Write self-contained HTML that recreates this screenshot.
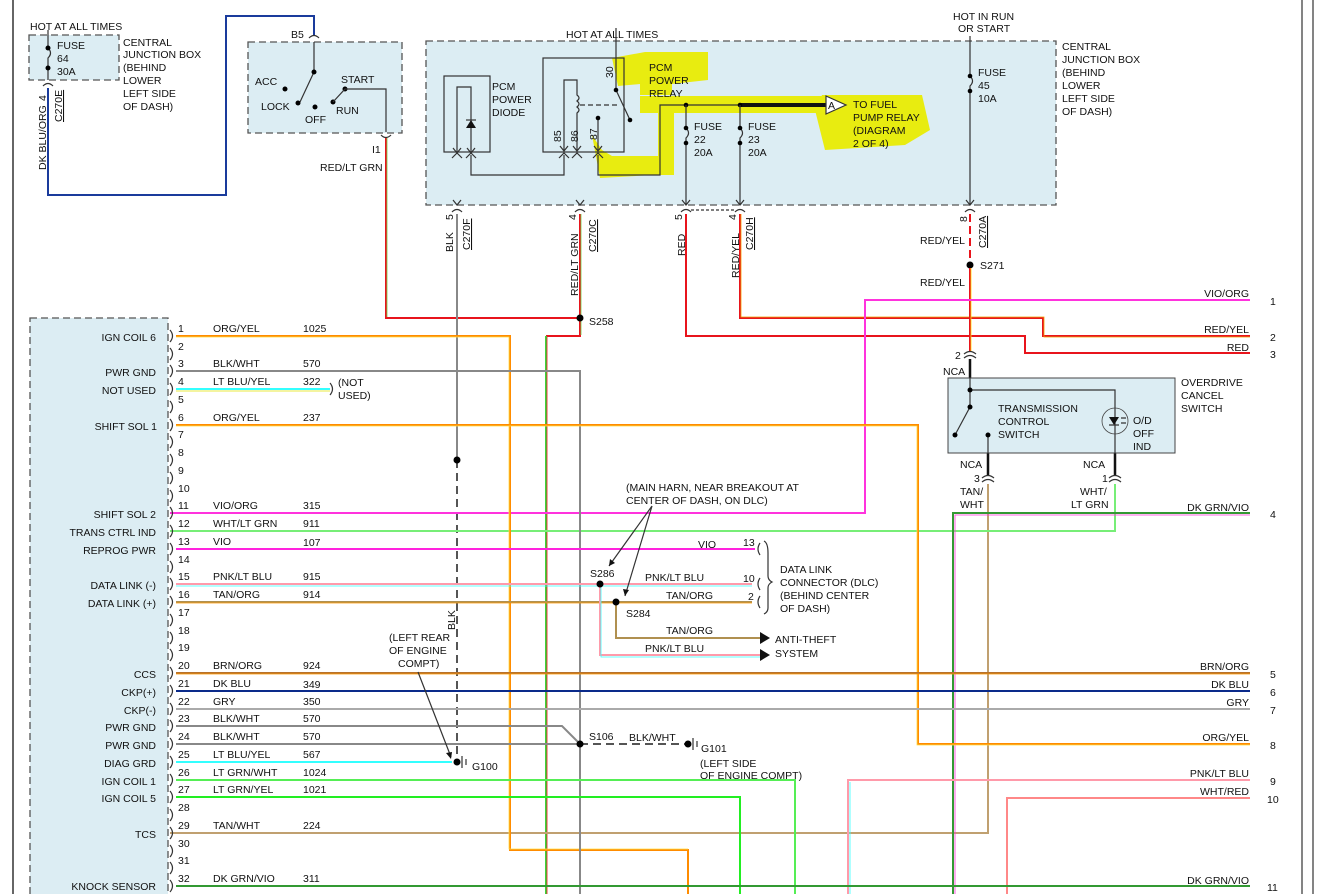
<!DOCTYPE html>
<html><head><meta charset="utf-8"><style>
html,body{margin:0;padding:0;background:#fff}
svg{display:block}
text{font-family:"Liberation Sans",sans-serif;font-size:10.5px;fill:#111}
.r{text-anchor:end}
.b{fill:#dcedf3;stroke:#555;stroke-width:1.3;stroke-dasharray:7,4}
.k{stroke:#333;stroke-width:1.2;fill:none}
.w{fill:none;stroke-width:2}
.t{fill:none;stroke-width:0.8}
</style></head><body>
<svg width="1321" height="894" viewBox="0 0 1321 894" xmlns="http://www.w3.org/2000/svg">
<rect width="1321" height="894" fill="#fff"/>
<line x1="13" y1="0" x2="13" y2="894" stroke="#333" stroke-width="1.5"/>
<line x1="1302" y1="0" x2="1302" y2="894" stroke="#333" stroke-width="1.2"/>
<line x1="1313" y1="0" x2="1313" y2="894" stroke="#333" stroke-width="1.2"/>

<!-- top-left fuse box -->
<rect class="b" x="29" y="35" width="90" height="45"/>
<text x="30" y="30">HOT AT ALL TIMES</text>
<text x="57" y="49">FUSE</text><text x="57" y="62">64</text><text x="57" y="75">30A</text>
<text x="123" y="46">CENTRAL</text><text x="123" y="58">JUNCTION BOX</text><text x="123" y="71">(BEHIND</text><text x="123" y="84">LOWER</text><text x="123" y="97">LEFT SIDE</text><text x="123" y="110">OF DASH)</text>
<path class="k" d="M48 30V48q5 5 0 10V80"/>
<circle cx="48" cy="48" r="2.5"/><circle cx="48" cy="68" r="2.5"/>
<path class="k" d="M43 86q5 -5 10 0"/>
<path class="w" stroke="#1a3b9c" d="M48 88V195H226V16H314V36"/>
<text transform="translate(46,170) rotate(-90)">DK BLU/ORG</text>
<text transform="translate(46,101) rotate(-90)">4</text>
<text transform="translate(62,122) rotate(-90)" text-decoration="underline">C270E</text>

<!-- ignition switch -->
<rect class="b" x="248" y="42" width="154" height="91"/>
<text x="291" y="38">B5</text>
<path class="k" d="M309 38q5 -5 10 0 M314 42V72L300 102"/>
<circle cx="314" cy="72" r="2.5"/><circle cx="285" cy="89" r="2.5"/><circle cx="298" cy="103" r="2.5"/><circle cx="315" cy="107" r="2.5"/><circle cx="333" cy="102" r="2.5"/><circle cx="345" cy="89" r="2.5"/>
<path class="k" d="M333 102L345 89H386V132"/>
<text x="255" y="85">ACC</text><text x="261" y="110">LOCK</text><text x="305" y="123">OFF</text><text x="341" y="83">START</text><text x="336" y="114">RUN</text>
<path class="k" d="M381 135q5 5 10 0"/>
<text x="372" y="153">I1</text><text x="320" y="171">RED/LT GRN</text>
<path class="w" stroke="#e8141c" d="M386 138V318H580"/>
<path class="t" stroke="#6cd24a" d="M387 138V317"/>

<!-- CJB big box -->
<rect class="b" x="426" y="41" width="630" height="164"/>
<text x="566" y="38">HOT AT ALL TIMES</text>
<text x="953" y="20">HOT IN RUN</text><text x="958" y="32">OR START</text>
<text x="1062" y="50">CENTRAL</text><text x="1062" y="63">JUNCTION BOX</text><text x="1062" y="76">(BEHIND</text><text x="1062" y="89">LOWER</text><text x="1062" y="102">LEFT SIDE</text><text x="1062" y="115">OF DASH)</text>
<!-- highlight -->
<g fill="#e8ec10">
<path d="M612 58L645 52H708V80L672 84V95H640L640 84L618 86Z"/>
<rect x="640" y="96" width="200" height="17"/>
<path d="M822 95H922L930 130L905 145L825 150L815 110Z"/>
<rect x="658" y="100" width="16" height="75"/>
<path d="M592 135L602 150L612 156H672V174L600 178Z"/>
</g>
<!-- diode -->
<rect x="444" y="76" width="46" height="76" fill="none" stroke="#333" stroke-width="1.2"/>
<path class="k" d="M457 152V87H471V152"/>
<path d="M466 128h10l-5 -8z" fill="#111"/><path class="k" d="M466 120h10"/>
<path class="k" d="M453 148l4 5l4 -5 M467 148l4 5l4 -5 M452 158l5 -5l5 5 M466 158l5 -5l5 5"/>
<text x="492" y="90">PCM</text><text x="492" y="103">POWER</text><text x="492" y="116">DIODE</text>
<path class="k" d="M471 155V175H564V155"/>
<!-- relay -->
<rect x="543" y="58" width="81" height="94" fill="none" stroke="#333" stroke-width="1.2"/>
<path class="k" d="M564 150V80H577V95q4 3 0 6q4 3 0 6q4 3 0 6V150"/>
<path class="k" d="M580 105H620" stroke-dasharray="5,3"/>
<path class="k" d="M616 28V90L630 120 M598 118V150"/>
<circle cx="616" cy="90" r="2.3"/><circle cx="630" cy="120" r="2.3"/><circle cx="598" cy="118" r="2.3"/>
<path class="k" d="M560 146l4 5l4 -5 M573 146l4 5l4 -5 M594 146l4 5l4 -5 M559 158l5 -5l5 5 M572 158l5 -5l5 5 M593 158l5 -5l5 5"/>
<text transform="translate(613,78) rotate(-90)">30</text>
<text transform="translate(561,142) rotate(-90)">85</text>
<text transform="translate(578,142) rotate(-90)">86</text>
<text transform="translate(597,140) rotate(-90)">87</text>
<text x="649" y="71">PCM</text><text x="649" y="84">POWER</text><text x="649" y="97">RELAY</text>
<path class="k" d="M598 155V175H660V105H740"/>
<path stroke="#111" stroke-width="4" d="M740 105H826"/>
<path d="M826 96L846 105L826 114Z" fill="#fff" stroke="#333" stroke-width="1.2"/>
<text x="828" y="109">A</text>
<text x="853" y="108">TO FUEL</text><text x="853" y="121">PUMP RELAY</text><text x="853" y="134">(DIAGRAM</text><text x="853" y="147">2 OF 4)</text>
<circle cx="686" cy="105" r="2.3"/><circle cx="740" cy="105" r="2.3"/>
<path class="k" d="M686 105V128q5 5 0 10V205 M740 105V128q5 5 0 10V205"/>
<circle cx="686" cy="128" r="2.3"/><circle cx="686" cy="143" r="2.3"/><circle cx="740" cy="128" r="2.3"/><circle cx="740" cy="143" r="2.3"/>
<text x="694" y="130">FUSE</text><text x="694" y="143">22</text><text x="694" y="156">20A</text>
<text x="748" y="130">FUSE</text><text x="748" y="143">23</text><text x="748" y="156">20A</text>
<path class="k" d="M970 36V76q5 5 0 10V205"/>
<circle cx="970" cy="76" r="2.3"/><circle cx="970" cy="91" r="2.3"/>
<text x="978" y="76">FUSE</text><text x="978" y="89">45</text><text x="978" y="102">10A</text>
<path class="k" d="M453 200l4 5l4 -5 M576 200l4 5l4 -5 M682 200l4 5l4 -5 M736 200l4 5l4 -5 M966 200l4 5l4 -5"/>
<path class="k" d="M452 212q5 -5 10 0 M575 212q5 -5 10 0 M681 212q5 -5 10 0 M735 212q5 -5 10 0 M965 212q5 -5 10 0"/>
<path class="k" d="M691 210H735" stroke-dasharray="3,2" stroke-width="0.8"/>
<!-- connector labels -->
<text transform="translate(453,220) rotate(-90)">5</text>
<text transform="translate(453,252) rotate(-90)">BLK</text>
<text transform="translate(470,250) rotate(-90)" text-decoration="underline">C270F</text>
<text transform="translate(576,220) rotate(-90)">4</text>
<text transform="translate(578,296) rotate(-90)">RED/LT GRN</text>
<text transform="translate(596,252) rotate(-90)" text-decoration="underline">C270C</text>
<text transform="translate(682,220) rotate(-90)">5</text>
<text transform="translate(685,256) rotate(-90)">RED</text>
<text transform="translate(736,220) rotate(-90)">4</text>
<text transform="translate(739,278) rotate(-90)">RED/YEL</text>
<text transform="translate(753,250) rotate(-90)" text-decoration="underline">C270H</text>
<text transform="translate(967,222) rotate(-90)">8</text>
<text transform="translate(986,248) rotate(-90)" text-decoration="underline">C270A</text>
<text x="920" y="244">RED/YEL</text><text x="920" y="286">RED/YEL</text>
<circle cx="970" cy="265" r="3.5"/><text x="980" y="269">S271</text>

<!-- wires from CJB -->
<path class="w" stroke="#888" d="M457 214V460"/>
<path class="w" stroke="#555" stroke-dasharray="8,5" d="M457 460V762"/>
<circle cx="457" cy="460" r="3.5"/>
<text transform="translate(455,630) rotate(-90)">BLK</text>
<path class="w" stroke="#e8141c" d="M580 214V336H546"/>
<path class="t" stroke="#6cd24a" d="M581 214V335"/>
<circle cx="580" cy="318" r="3.5"/><text x="589" y="325">S258</text>
<path class="w" stroke="#3ad43a" d="M546 336V894"/><path class="t" stroke="#e8141c" d="M547 337V894"/>
<path class="w" stroke="#e8141c" d="M686 214V336H1025V353H1250"/>
<path class="w" stroke="#e8141c" d="M740 214V318H1043V336H1250"/>
<path class="t" stroke="#f0a000" d="M741 214V317H1044V337H1250"/>
<path class="w" stroke="#e8141c" stroke-dasharray="8,4" d="M970 214V262"/>
<path class="w" stroke="#e8141c" d="M970 268V352"/><path class="t" stroke="#ffdd00" d="M971 268V352"/>
<path class="w" stroke="#ff33dd" d="M170 513H865V300H1250"/>

<!-- right labels -->
<g class="r">
<text x="1249" y="297" class="r">VIO/ORG</text><text x="1249" y="333" class="r">RED/YEL</text><text x="1249" y="351" class="r">RED</text>
<text x="1249" y="511" class="r">DK GRN/VIO</text><text x="1249" y="670" class="r">BRN/ORG</text><text x="1249" y="688" class="r">DK BLU</text>
<text x="1249" y="706" class="r">GRY</text><text x="1249" y="741" class="r">ORG/YEL</text><text x="1249" y="777" class="r">PNK/LT BLU</text>
<text x="1249" y="795" class="r">WHT/RED</text><text x="1249" y="884" class="r">DK GRN/VIO</text>
</g>
<text x="1270" y="305">1</text><text x="1270" y="341">2</text><text x="1270" y="358">3</text><text x="1270" y="518">4</text>
<text x="1270" y="678">5</text><text x="1270" y="696">6</text><text x="1270" y="714">7</text><text x="1270" y="749">8</text>
<text x="1270" y="785">9</text><text x="1267" y="803">10</text><text x="1267" y="891">11</text>

<!-- overdrive switch -->
<path class="k" d="M964 354q6 -5 12 0 M964 358q6 -5 12 0"/>
<text x="955" y="359">2</text><text x="943" y="375">NCA</text>
<path stroke="#111" stroke-width="2.5" d="M970 359V378 M988 453V475 M1115 453V475"/>
<rect x="948" y="378" width="227" height="75" fill="#dcedf3" stroke="#444" stroke-width="1"/>
<path class="k" d="M970 378V407L955 435 M970 390H1115V453 M988 435V453"/>
<circle cx="970" cy="390" r="2.5"/><circle cx="970" cy="407" r="2.5"/><circle cx="955" cy="435" r="2.5"/><circle cx="988" cy="435" r="2.5"/>
<circle cx="1115" cy="421" r="13" fill="none" stroke="#444" stroke-width="0.8"/>
<path d="M1109 417h10l-5 8z" fill="#111"/><path class="k" d="M1109 425h10 M1121 418h5 M1121 423h5"/>
<text x="998" y="412">TRANSMISSION</text><text x="998" y="425">CONTROL</text><text x="998" y="438">SWITCH</text>
<text x="1133" y="424">O/D</text><text x="1133" y="437">OFF</text><text x="1133" y="450">IND</text>
<text x="1181" y="386">OVERDRIVE</text><text x="1181" y="399">CANCEL</text><text x="1181" y="412">SWITCH</text>
<text x="960" y="468">NCA</text><text x="1083" y="468">NCA</text>
<path class="k" d="M982 478q6 -5 12 0 M982 482q6 -5 12 0 M1109 478q6 -5 12 0 M1109 482q6 -5 12 0"/>
<text x="974" y="482">3</text><text x="1102" y="482">1</text>
<text x="960" y="495">TAN/</text><text x="960" y="508">WHT</text><text x="1080" y="495">WHT/</text><text x="1071" y="508">LT GRN</text>
<path class="w" stroke="#c0a070" d="M988 484V833H170"/>
<path class="w" stroke="#77ee77" d="M1115 484V531H170"/>
<path class="w" stroke="#339933" d="M953 894V513H1250"/><path class="t" stroke="#ff33dd" d="M955 894V515H1250"/>

<!-- PCM module -->
<rect class="b" x="30" y="318" width="138" height="590"/>
<g class="r">
<text class="r" x="156" y="341">IGN COIL 6</text><text class="r" x="156" y="376">PWR GND</text><text class="r" x="156" y="394">NOT USED</text>
<text class="r" x="157" y="430">SHIFT SOL 1</text><text class="r" x="156" y="518">SHIFT SOL 2</text><text class="r" x="156" y="536">TRANS CTRL IND</text>
<text class="r" x="156" y="554">REPROG PWR</text><text class="r" x="156" y="589">DATA LINK (-)</text><text class="r" x="156" y="607">DATA LINK (+)</text>
<text class="r" x="156" y="678">CCS</text><text class="r" x="156" y="696">CKP(+)</text><text class="r" x="156" y="714">CKP(-)</text>
<text class="r" x="156" y="731">PWR GND</text><text class="r" x="156" y="749">PWR GND</text><text class="r" x="156" y="767">DIAG GRD</text>
<text class="r" x="156" y="785">IGN COIL 1</text><text class="r" x="156" y="802">IGN COIL 5</text><text class="r" x="156" y="838">TCS</text>
<text class="r" x="156" y="890">KNOCK SENSOR</text>
</g>
<path class="k" stroke-width="1" d="M170 330q5 6 0 12 M170 348q5 6 0 12 M170 365q5 6 0 12 M170 383q5 6 0 12 M170 401q5 6 0 12 M170 419q5 6 0 12 M170 436q5 6 0 12 M170 454q5 6 0 12 M170 472q5 6 0 12 M170 490q5 6 0 12 M170 507q5 6 0 12 M170 525q5 6 0 12 M170 543q5 6 0 12 M170 561q5 6 0 12 M170 578q5 6 0 12 M170 596q5 6 0 12 M170 614q5 6 0 12 M170 632q5 6 0 12 M170 649q5 6 0 12 M170 667q5 6 0 12 M170 685q5 6 0 12 M170 703q5 6 0 12 M170 720q5 6 0 12 M170 738q5 6 0 12 M170 756q5 6 0 12 M170 774q5 6 0 12 M170 791q5 6 0 12 M170 809q5 6 0 12 M170 827q5 6 0 12 M170 845q5 6 0 12 M170 862q5 6 0 12 M170 880q5 6 0 12"/>
<g>
<text x="178" y="332">1</text><text x="178" y="350">2</text><text x="178" y="367">3</text><text x="178" y="385">4</text><text x="178" y="403">5</text><text x="178" y="421">6</text><text x="178" y="438">7</text><text x="178" y="456">8</text><text x="178" y="474">9</text><text x="178" y="492">10</text><text x="178" y="509">11</text><text x="178" y="527">12</text><text x="178" y="545">13</text><text x="178" y="563">14</text><text x="178" y="580">15</text><text x="178" y="598">16</text><text x="178" y="616">17</text><text x="178" y="634">18</text><text x="178" y="651">19</text><text x="178" y="669">20</text><text x="178" y="687">21</text><text x="178" y="705">22</text><text x="178" y="722">23</text><text x="178" y="740">24</text><text x="178" y="758">25</text><text x="178" y="776">26</text><text x="178" y="793">27</text><text x="178" y="811">28</text><text x="178" y="829">29</text><text x="178" y="847">30</text><text x="178" y="864">31</text><text x="178" y="882">32</text>
</g>
<g>
<text x="213" y="332">ORG/YEL</text><text x="303" y="332">1025</text>
<text x="213" y="367">BLK/WHT</text><text x="303" y="367">570</text>
<text x="213" y="385">LT BLU/YEL</text><text x="303" y="385">322</text>
<text x="213" y="421">ORG/YEL</text><text x="303" y="421">237</text>
<text x="213" y="509">VIO/ORG</text><text x="303" y="509">315</text>
<text x="213" y="527">WHT/LT GRN</text><text x="303" y="527">911</text>
<text x="213" y="545">VIO</text><text x="303" y="546">107</text>
<text x="213" y="580">PNK/LT BLU</text><text x="303" y="580">915</text>
<text x="213" y="598">TAN/ORG</text><text x="303" y="598">914</text>
<text x="213" y="669">BRN/ORG</text><text x="303" y="669">924</text>
<text x="213" y="687">DK BLU</text><text x="303" y="688">349</text>
<text x="213" y="705">GRY</text><text x="303" y="705">350</text>
<text x="213" y="722">BLK/WHT</text><text x="303" y="722">570</text>
<text x="213" y="740">BLK/WHT</text><text x="303" y="740">570</text>
<text x="213" y="758">LT BLU/YEL</text><text x="303" y="758">567</text>
<text x="213" y="776">LT GRN/WHT</text><text x="303" y="776">1024</text>
<text x="213" y="793">LT GRN/YEL</text><text x="303" y="793">1021</text>
<text x="213" y="829">TAN/WHT</text><text x="303" y="829">224</text>
<text x="213" y="882">DK GRN/VIO</text><text x="303" y="882">311</text>
</g>
<!-- PCM wires -->
<path class="w" stroke="#ff8c00" d="M176 336H510V850H688V894"/><path class="t" stroke="#ffdd44" d="M176 337H509V849H688"/>
<path class="w" stroke="#888" d="M176 371H580V894"/>
<path class="w" stroke="#33ffff" d="M176 389H330"/><path class="t" stroke="#e0e000" d="M176 391H330"/>
<path class="k" d="M330 383q5 6 0 12"/><text x="338" y="386">(NOT</text><text x="338" y="399">USED)</text>
<path class="w" stroke="#ff8c00" d="M176 425H918V744H1250"/><path class="t" stroke="#ffdd44" d="M176 426H917V745H1250"/>
<path class="w" stroke="#ff22dd" d="M176 549H755"/>
<path class="w" stroke="#ff9aaa" d="M176 584H752"/><path class="t" stroke="#33ffff" d="M176 586H752"/>
<path class="w" stroke="#b09050" d="M176 602H752"/><path class="t" stroke="#ff9900" d="M176 603H752"/>
<path class="w" stroke="#ff9aaa" d="M600 584V655H762"/><path class="t" stroke="#33ffff" d="M601 584V657H762"/>
<path class="w" stroke="#b09050" d="M616 602V638H762"/>
<path d="M760 632L770 638L760 644Z M760 649L770 655L760 661Z" fill="#111"/>
<circle cx="600" cy="584" r="3.5"/><circle cx="616" cy="602" r="3.5"/>
<text x="590" y="577">S286</text><text x="626" y="617">S284</text>
<text x="698" y="548">VIO</text><text x="743" y="546">13</text>
<text x="645" y="581">PNK/LT BLU</text><text x="743" y="582">10</text>
<text x="666" y="599">TAN/ORG</text><text x="748" y="600">2</text>
<text x="666" y="634">TAN/ORG</text><text x="645" y="652">PNK/LT BLU</text>
<text x="775" y="643">ANTI-THEFT</text><text x="775" y="657">SYSTEM</text>
<path class="k" d="M760 543q-4 6 0 12 M760 578q-4 6 0 12 M760 596q-4 6 0 12 M764 541q4 2 4 12V576q0 4 4 6q-4 2 -4 6V608q0 4 -4 6"/>
<text x="780" y="573">DATA LINK</text><text x="780" y="586">CONNECTOR (DLC)</text><text x="780" y="599">(BEHIND CENTER</text><text x="780" y="612">OF DASH)</text>
<text x="626" y="491">(MAIN HARN, NEAR BREAKOUT AT</text><text x="626" y="504">CENTER OF DASH, ON DLC)</text>
<path class="k" stroke-width="0.9" d="M652 506L609 566 M652 506L625 596"/>
<path d="M609 566l1 -7l5 4z M625 596l-2 -7l6 1z" fill="#111"/>
<path class="w" stroke="#b8722a" d="M176 673H1250"/><path class="t" stroke="#ff9900" d="M176 674H1250"/>
<path class="w" stroke="#0a2a8a" d="M176 691H1250"/>
<path class="w" stroke="#aaa" d="M176 709H1250"/>
<path class="w" stroke="#888" d="M176 726H562L580 744 M176 744H580"/>
<path class="w" stroke="#555" stroke-dasharray="8,5" d="M580 744H688"/>
<circle cx="580" cy="744" r="3.5"/><circle cx="688" cy="744" r="3.5"/>
<path class="k" d="M693 738V750 M697 741V747"/>
<text x="589" y="740">S106</text><text x="629" y="741">BLK/WHT</text>
<text x="701" y="752">G101</text><text x="700" y="767">(LEFT SIDE</text><text x="700" y="779">OF ENGINE COMPT)</text>
<path class="w" stroke="#33ffff" d="M176 762H452"/>
<circle cx="457" cy="762" r="3.5"/><path class="k" d="M462 756V768 M466 759V765"/>
<text x="472" y="770">G100</text>
<text x="389" y="641">(LEFT REAR</text><text x="389" y="654">OF ENGINE</text><text x="398" y="667">COMPT)</text>
<path class="k" stroke-width="0.9" d="M418 672L451 757"/><path d="M451 759l-5 -6l6 -1z" fill="#111"/>
<path class="w" stroke="#55ee55" d="M176 780H795V894"/>
<path class="w" stroke="#22ee22" d="M176 797H740V894"/>
<path class="w" stroke="#ff9aaa" d="M848 894V780H1250"/><path class="t" stroke="#33ffff" d="M850 894V782"/>
<path class="w" stroke="#ff8888" d="M1007 894V798H1250"/>
<path class="w" stroke="#339933" d="M176 886H1250"/>
</svg></body></html>
